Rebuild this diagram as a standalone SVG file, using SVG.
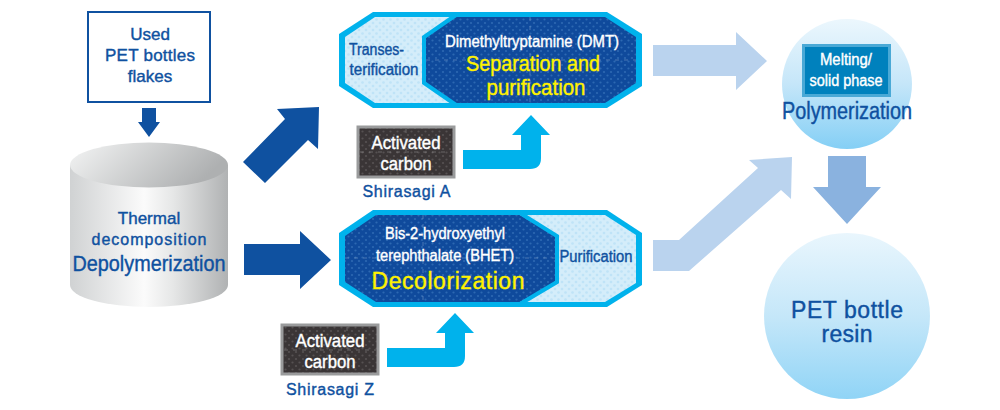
<svg xmlns="http://www.w3.org/2000/svg" width="1000" height="410" viewBox="0 0 1000 410">
<style>
text{font-family:"Liberation Sans",Arial,sans-serif;text-anchor:middle;stroke-width:.4}
.b{fill:#0f51a0;stroke:#0f51a0}.w{fill:#fff;stroke:#fff}.y{fill:#fff200;stroke:#fff200}
.blue{fill:#0f51a0}.pale{fill:#bad3ee}.cy{fill:#00b2ec}
.dash{stroke:#fff;stroke-opacity:.35;stroke-width:.7;stroke-dasharray:4 5;fill:none}
</style>
<defs>
<pattern id="dl" width="7" height="7" patternUnits="userSpaceOnUse"><rect width="7" height="7" fill="#d4edfa"/><circle cx="2" cy="2" r="1.3" fill="#bfe3f7"/><circle cx="5.5" cy="5.5" r="1.3" fill="#bfe3f7"/></pattern>
<pattern id="dd" width="7" height="7" patternUnits="userSpaceOnUse"><rect width="7" height="7" fill="#0f4a9c"/><circle cx="2" cy="2" r="1.1" fill="#2c68b2"/><circle cx="5.5" cy="5.5" r="1.1" fill="#2c68b2"/></pattern>
<pattern id="dk" width="7" height="7" patternUnits="userSpaceOnUse"><rect width="7" height="7" fill="#3a3536"/><circle cx="2" cy="2" r="1.1" fill="#565152"/><circle cx="5.5" cy="5.5" r="1.1" fill="#565152"/></pattern>
<linearGradient id="cb" x1="0" x2="1" y1="0" y2="0"><stop offset="0" stop-color="#d0d2d3"/><stop offset=".47" stop-color="#fbfbfb"/><stop offset=".65" stop-color="#e6e7e7"/><stop offset="1" stop-color="#b0b2b3"/></linearGradient>
<linearGradient id="ct" x1="0" x2="1" y1="0" y2="0.3"><stop offset="0" stop-color="#f4f5f5"/><stop offset="1" stop-color="#aeb0b1"/></linearGradient>
<linearGradient id="c1" x1="0" x2="0" y1="0" y2="1"><stop offset="0" stop-color="#ecf7fd"/><stop offset=".5" stop-color="#c5e6f9"/><stop offset="1" stop-color="#84cff5"/></linearGradient>
<linearGradient id="c2" x1="0" x2="0" y1="0" y2="1"><stop offset="0" stop-color="#e9f6fd"/><stop offset=".5" stop-color="#c5e7f9"/><stop offset="1" stop-color="#90d4f6"/></linearGradient>
</defs>

<g id="connectors">
<path class="blue" d="M142 108H156V122H160L149 137L138 122H142Z"/>
<path class="blue" d="M243 162L285 119L277 109L319 107L318 149L308 140L265 183Z"/>
<path class="blue" d="M244 244H300V231L331 260L300 289V275H244Z"/>
<path class="pale" d="M653 45H736V32L767 61L736 90V76H653Z"/>
<path class="pale" d="M653 240H679L758 168L749 160L792 157L791 199L781 190L689 271H653Z"/>
<path fill="#8ab2df" d="M828 156H866V187H881L847 224L813 187H828Z"/>
<path class="cy" d="M463 150H521V135H512L531 115L550 135H541V158Q541 169 530 169H463Z"/>
<path class="cy" d="M387 348H445V333H436L455 313L474 333H465V356Q465 367 454 367H387Z"/>
</g>

<g id="used-flakes">
<rect x="88" y="12" width="122" height="90" fill="#fff" stroke="#0f51a0" stroke-width="2"/>
<text class="b" font-size="17" x="150" y="40">Used</text>
<text class="b" font-size="17" x="150" y="61" textLength="90">PET bottles</text>
<text class="b" font-size="17" x="150" y="82">flakes</text>
</g>

<g id="depolymerization">
<path fill="url(#cb)" d="M70 165V285A79 22 0 0 0 228 285V165Z"/>
<ellipse cx="149" cy="165" rx="79" ry="22.500" fill="url(#ct)"/>
<text class="b" font-size="17" x="149" y="224">Thermal</text>
<text class="b" font-size="16" x="149" y="245" textLength="115">decomposition</text>
<text class="b" font-size="22" x="149" y="271" textLength="153" lengthAdjust="spacingAndGlyphs">Depolymerization</text>
</g>

<g id="dmt">
<path fill="#00b2ec" d="M373 12H607L642 34V86L607 108H373L339 86V34Z"/>
<path fill="url(#dl)" d="M375 17H460V103H375L345 83V37Z"/>
<path fill="url(#dd)" stroke="#00b2ec" stroke-width="0" d="M455 17H605L636 37V83L605 103H455L424 83V37Z"/>
<path fill="none" stroke="#00b2ec" stroke-width="4" d="M456 15L424 37V83L456 105"/>
<path class="dash" d="M426 60H636M530 17V103"/>
<text class="b" font-size="16" x="376.500" y="55" textLength="55" lengthAdjust="spacingAndGlyphs">Transes-</text>
<text class="b" font-size="16" x="384" y="75" textLength="69" lengthAdjust="spacingAndGlyphs">terification</text>
<text class="w" font-size="16" x="532" y="47" textLength="174" lengthAdjust="spacingAndGlyphs">Dimethyltryptamine (DMT)</text>
<text class="y" font-size="22" x="533" y="71" textLength="134" lengthAdjust="spacingAndGlyphs">Separation and</text>
<text class="y" font-size="22" x="536" y="95" textLength="99" lengthAdjust="spacingAndGlyphs">purification</text>
</g>

<g id="carbon-a">
<rect x="358" y="127" width="96" height="50" fill="url(#dk)" stroke="#9a9b9c" stroke-width="3"/>
<path class="dash" d="M360 152H452M406 129V175"/>
<text class="w" font-size="18" x="406" y="149" textLength="69" lengthAdjust="spacingAndGlyphs">Activated</text>
<text class="w" font-size="18" x="406" y="170" textLength="51" lengthAdjust="spacingAndGlyphs">carbon</text>
<text class="b" font-size="16" x="406.500" y="197" textLength="88">Shirasagi A</text>
</g>

<g id="bhet">
<path fill="#00b2ec" d="M373 210H607L642 233V285L607 307H373L339 285V233Z"/>
<path fill="url(#dl)" d="M520 215H605L636 235V283L605 302H520Z"/>
<path fill="url(#dd)" d="M376 215H520L557 236V282L520 302H376L345 282V236Z"/>
<path fill="none" stroke="#00b2ec" stroke-width="4" d="M520 213L557 236V282L520 304"/>
<path class="dash" d="M345 258H555M423 215V302"/>
<text class="w" font-size="16" x="445" y="239" textLength="120" lengthAdjust="spacingAndGlyphs">Bis-2-hydroxyethyl</text>
<text class="w" font-size="16" x="445" y="261" textLength="138" lengthAdjust="spacingAndGlyphs">terephthalate (BHET)</text>
<text class="y" font-size="23" x="448" y="289" textLength="153">Decolorization</text>
<text class="b" font-size="16" x="596" y="262" textLength="73" lengthAdjust="spacingAndGlyphs">Purification</text>
</g>

<g id="carbon-z">
<rect x="282" y="325" width="96" height="49" fill="url(#dk)" stroke="#9a9b9c" stroke-width="3"/>
<path class="dash" d="M284 350H376M347 327V372"/>
<text class="w" font-size="18" x="330" y="347" textLength="69" lengthAdjust="spacingAndGlyphs">Activated</text>
<text class="w" font-size="18" x="330" y="368" textLength="51" lengthAdjust="spacingAndGlyphs">carbon</text>
<text class="b" font-size="16" x="330" y="395" textLength="88">Shirasagi Z</text>
</g>

<g id="polymerization">
<circle cx="847" cy="84" r="65" fill="url(#c1)"/>
<rect x="803.500" y="45.500" width="86" height="50" fill="#0081bd" stroke="#4aa9d6" stroke-width="3"/>
<text class="w" font-size="16" x="846" y="65" textLength="52" lengthAdjust="spacingAndGlyphs">Melting/</text>
<text class="w" font-size="16" x="846" y="86" textLength="73" lengthAdjust="spacingAndGlyphs">solid phase</text>
<text class="b" font-size="23" x="847" y="119" textLength="130" lengthAdjust="spacingAndGlyphs">Polymerization</text>
</g>

<g id="pet-resin">
<circle cx="847" cy="316" r="83" fill="url(#c2)"/>
<text class="b" font-size="23" x="847" y="318" textLength="112">PET bottle</text>
<text class="b" font-size="23" x="847" y="342" textLength="51">resin</text>
</g>
</svg>
